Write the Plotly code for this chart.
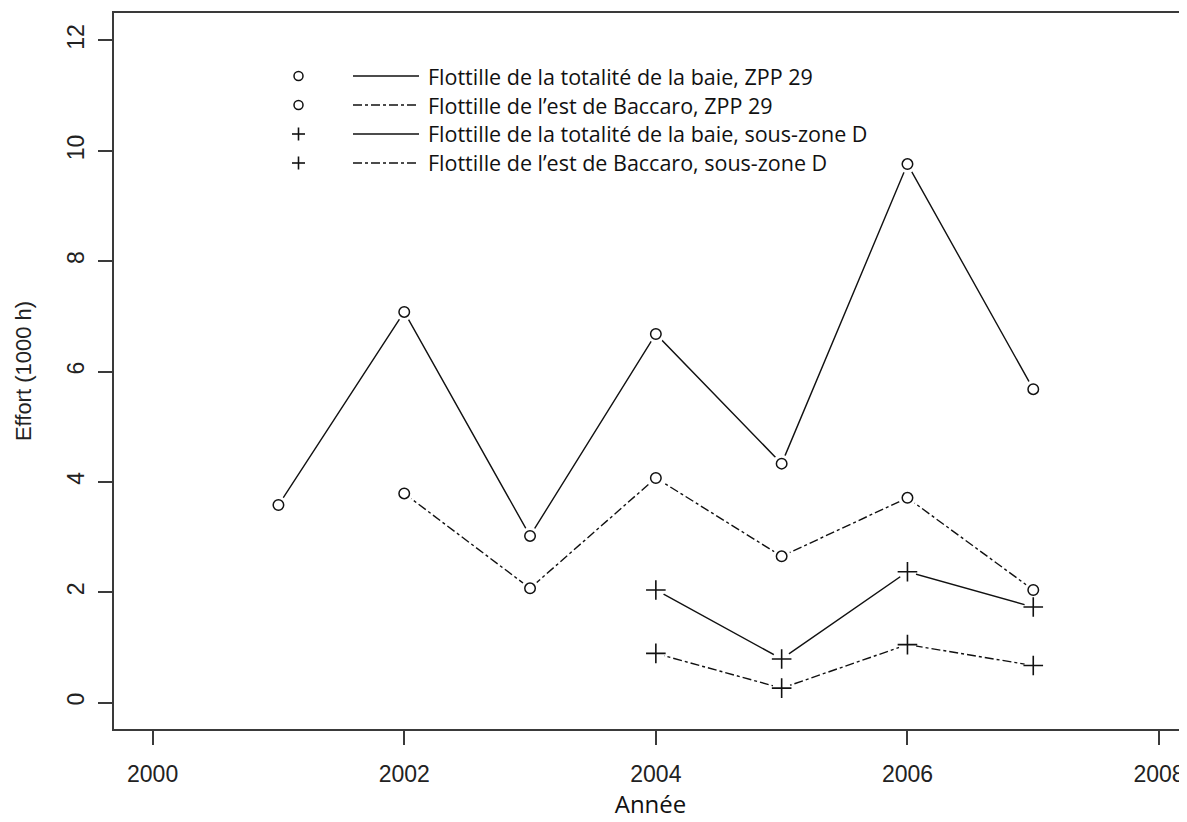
import plotly.graph_objects as go

# ---- data ----
years_a = [2001, 2002, 2003, 2004, 2005, 2006, 2007]
total_zpp29 = [3.58, 7.08, 3.02, 6.68, 4.33, 9.76, 5.68]

years_b = [2002, 2003, 2004, 2005, 2006, 2007]
est_zpp29 = [3.79, 2.07, 4.07, 2.65, 3.71, 2.04]

years_c = [2004, 2005, 2006, 2007]
total_szD = [2.04, 0.79, 2.37, 1.73]
est_szD = [0.89, 0.26, 1.05, 0.67]

legend_labels = [
    "Flottille de la totalité de la baie, ZPP 29",
    "Flottille de l\u2019est de Baccaro, ZPP 29",
    "Flottille de la totalité de la baie, sous-zone D",
    "Flottille de l\u2019est de Baccaro, sous-zone D",
]
x_ticks = [2000, 2002, 2004, 2006, 2008]
y_ticks = [0, 2, 4, 6, 8, 10, 12]

series = [
    (years_a, total_zpp29, "solid", "circle"),
    (years_b, est_zpp29, "dashdot", "circle"),
    (years_c, total_szD, "solid", "cross"),
    (years_c, est_szD, "dashdot", "cross"),
]

INK = "#111111"
fig = go.Figure()

for xs, ys, dash, sym in series:
    fig.add_trace(go.Scatter(x=xs, y=ys, mode="lines",
                             line=dict(color=INK, width=1.4, dash=dash),
                             hoverinfo="skip", showlegend=False))
for xs, ys, dash, sym in series:
    fig.add_trace(go.Scatter(x=xs, y=ys, mode="markers",
                             marker=dict(symbol="circle", size=18, color="white",
                                         line=dict(width=0)),
                             hoverinfo="skip", showlegend=False))
for xs, ys, dash, sym in series:
    if sym == "circle":
        mk = dict(symbol="circle-open", size=10.5, color=INK, line=dict(width=1.5, color=INK))
    else:
        mk = dict(symbol="cross-thin-open", size=14, color=INK, line=dict(width=1.6, color=INK))
    fig.add_trace(go.Scatter(x=xs, y=ys, mode="markers", marker=mk,
                             hoverinfo="skip", showlegend=False))

# page has an 8px body margin: figure is offset by (8, 8) in the window
OFF = 8
W, H = 1187 - OFF, 822 - OFF
L, T, B, R = 114 - OFF, 13 - OFF, 93, 0
pw, ph = W - L - R, H - T - B

def px(x):  # window pixel -> paper
    return (x - OFF - L) / pw

def py(y):
    return 1 - (y - OFF - T) / ph

row_y = [76, 105, 134, 163]
legend_syms = ["o", "o", "+", "+"]
legend_dash = ["solid", "dashdot", "solid", "dashdot"]
for i, lab in enumerate(legend_labels):
    yy = py(row_y[i])
    fig.add_shape(type="line", xref="paper", yref="paper",
                  x0=px(353), x1=px(419), y0=yy, y1=yy,
                  line=dict(color=INK, width=1.4, dash=legend_dash[i]))
    fig.add_annotation(xref="paper", yref="paper", x=px(426), y=yy,
                       text=lab, showarrow=False, xanchor="left", yanchor="middle",
                       font=dict(family="Open Sans, Noto Sans, sans-serif", size=21.5, color=INK))
    if legend_syms[i] == "o":
        fig.add_shape(type="circle", xref="paper", yref="paper",
                      x0=px(294), x1=px(303), y0=py(row_y[i] - 4.5), y1=py(row_y[i] + 4.5),
                      line=dict(color=INK, width=1.5))
    else:
        fig.add_shape(type="line", xref="paper", yref="paper",
                      x0=px(292), x1=px(305), y0=yy, y1=yy, line=dict(color=INK, width=1.6))
        fig.add_shape(type="line", xref="paper", yref="paper",
                      x0=px(298.5), x1=px(298.5), y0=py(row_y[i] - 6.5), y1=py(row_y[i] + 6.5),
                      line=dict(color=INK, width=1.6))

AX = "#3a3a3a"
fig.update_layout(
    width=W, height=H,
    margin=dict(l=L, r=R, t=T, b=B, pad=0, autoexpand=False),
    plot_bgcolor="white", paper_bgcolor="white",
    showlegend=False,
    xaxis=dict(
        automargin=False,
        range=[1999.693, 2008.222], tickmode="array", tickvals=x_ticks,
        ticktext=[str(v) for v in x_ticks],
        showgrid=False, zeroline=False,
        showline=True, mirror=True, linecolor=AX, linewidth=2,
        ticks="outside", ticklen=14, tickwidth=2, tickcolor=AX,
        ticklabelstandoff=9,
        tickfont=dict(family="Liberation Sans, Arial, sans-serif", size=23, color="#222"),
        title=dict(text="Année", standoff=8,
                   font=dict(family="Open Sans, Noto Sans, sans-serif", size=24, color="#111")),
    ),
    yaxis=dict(
        automargin=False,
        range=[-0.48, 12.498], tickmode="array", tickvals=y_ticks,
        ticktext=[str(v) for v in y_ticks],
        showgrid=False, zeroline=False,
        showline=True, mirror=False, linecolor=AX, linewidth=2,
        ticks="outside", ticklen=14, tickwidth=2, tickcolor=AX,
        tickangle=-90, ticklabelstandoff=5,
        tickfont=dict(family="Liberation Sans, Arial, sans-serif", size=23, color="#222"),
        title=dict(text="Effort (1000 h)", standoff=25,
                   font=dict(family="Liberation Sans, Arial, sans-serif", size=22, color="#222")),
    ),
)

fig.write_html("out.html")
